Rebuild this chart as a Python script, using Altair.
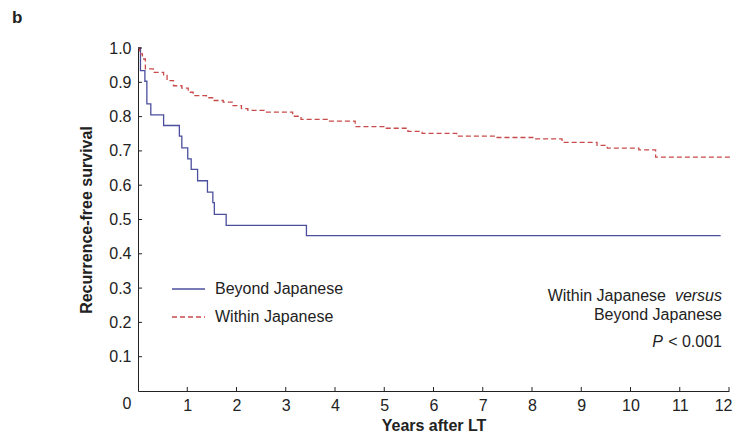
import altair as alt
import pandas as pd

# Beyond Japanese (blue, solid)
blue_t = [0, 0.05, 0.14, 0.18, 0.26, 0.52, 0.84, 0.89, 1.01, 1.08, 1.21, 1.41, 1.52, 1.55, 1.79, 3.42, 11.83]
blue_s = [1.0, 0.934, 0.903, 0.837, 0.805, 0.774, 0.743, 0.709, 0.677, 0.646, 0.613, 0.580, 0.549, 0.515, 0.483, 0.453, 0.453]

# Within Japanese (red, dashed)
red_t = [0, 0.03, 0.09, 0.15, 0.31, 0.52, 0.59, 0.72, 0.89, 1.02, 1.12, 1.39, 1.53, 1.73, 1.93, 2.10, 2.23, 2.61,
         3.14, 3.31, 3.84, 4.41, 5.02, 5.48, 5.77, 6.47, 7.25, 8.03, 8.61, 9.32, 9.53, 10.17, 10.51, 12.03]
red_s = [1.0, 0.983, 0.968, 0.939, 0.929, 0.920, 0.905, 0.890, 0.883, 0.871, 0.861, 0.855, 0.847, 0.842, 0.832, 0.823,
         0.818, 0.813, 0.801, 0.792, 0.787, 0.771, 0.766, 0.757, 0.751, 0.743, 0.739, 0.735, 0.725, 0.716, 0.708,
         0.703, 0.682, 0.682]

x_ticks = list(range(0, 13))
y_ticks = [0.1, 0.2, 0.3, 0.4, 0.5, 0.6, 0.7, 0.8, 0.9, 1.0]

BLUE = "#4b4f9e"
RED = "#c94a4a"
INK = "#222222"
FONT = "Liberation Sans"
FS = 16
W, H = 591, 343

blue_df = pd.DataFrame({"t": blue_t, "s": blue_s})
red_df = pd.DataFrame({"t": red_t, "s": red_s})

xscale = alt.Scale(domain=[0, 12], nice=False, zero=False)
yscale = alt.Scale(domain=[0, 1], nice=False)

xaxis = alt.Axis(values=x_ticks, ticks=False, labelPadding=6, labelFontSize=FS, labelFont=FONT,
                 labelColor=INK, labelExpr="datum.value == 0 ? '' : datum.label",
                 labelFlush=True, labelFlushOffset=3,
                 title="Years after LT", titleFont=FONT, titleFontSize=FS, titleFontWeight="bold",
                 titleColor=INK, titlePadding=4, domainColor=INK, grid=False)
yaxis = alt.Axis(values=y_ticks, format=".1f", ticks=False, labelPadding=7, labelFontSize=FS, labelFont=FONT,
                 labelColor=INK, title="Recurrence-free survival", titleFont=FONT, titleFontSize=FS,
                 titleFontWeight="bold", titleColor=INK, titlePadding=14, domainColor=INK, grid=False)

X = alt.X("t:Q", scale=xscale, axis=xaxis)
Y = alt.Y("s:Q", scale=yscale, axis=yaxis)

blue_line = alt.Chart(blue_df).mark_line(interpolate="step-after", color=BLUE, strokeWidth=1.3).encode(x=X, y=Y)
red_line = alt.Chart(red_df).mark_line(interpolate="step-after", color=RED, strokeWidth=1.3,
                                       strokeDash=[5, 3]).encode(x=X, y=Y)

xt = alt.Chart(pd.DataFrame({"t": x_ticks[1:]})).mark_rule(color=INK, strokeWidth=1).encode(
    x=X, y=alt.value(H), y2=alt.value(H - 4))
yt = alt.Chart(pd.DataFrame({"s": y_ticks})).mark_rule(color=INK, strokeWidth=1).encode(
    y=Y, x=alt.value(0), x2=alt.value(4))

one = pd.DataFrame({"a": [0]})


def txt(text, x, y, align="left", **kw):
    return alt.Chart(one).mark_text(text=text, font=FONT, fontSize=kw.pop("fontSize", FS), color=INK,
                                    align=align, baseline="middle", **kw).encode(x=alt.value(x), y=alt.value(y))


zero_lbl = txt("0", -11, H + 13, align="center")

leg_lines = alt.Chart(one).mark_rule(color=BLUE, strokeWidth=1.3).encode(
    x=alt.value(34), x2=alt.value(67), y=alt.value(241))
leg_lines2 = alt.Chart(one).mark_rule(color=RED, strokeWidth=1.3, strokeDash=[5, 3]).encode(
    x=alt.value(34), x2=alt.value(67), y=alt.value(269))
leg_t1 = txt("Beyond Japanese", 77, 241)
leg_t2 = txt("Within Japanese", 77, 269)

ann1 = txt("versus", 584, 248, align="right", fontStyle="italic")
ann1b = txt("Within Japanese", 528, 248, align="right")
ann2 = txt("Beyond Japanese", 584, 267, align="right")
ann3 = txt("< 0.001", 584, 294, align="right")
ann3p = txt("P", 525, 294, align="right", fontStyle="italic")
blbl = txt("b", -126, -30, fontSize=17, fontWeight="bold")

chart = alt.layer(blue_line, red_line, xt, yt, zero_lbl, leg_lines, leg_lines2, leg_t1, leg_t2,
                  ann1, ann1b, ann2, ann3, ann3p, blbl).properties(
    width=W, height=H,
    autosize=alt.AutoSizeParams(type="none"),
    padding={"left": 130, "top": 40, "right": 3, "bottom": 43},
).configure_view(stroke=None).configure_axis(domainWidth=1)

chart.save("out.html", embed_options={"renderer": "svg", "actions": False})
